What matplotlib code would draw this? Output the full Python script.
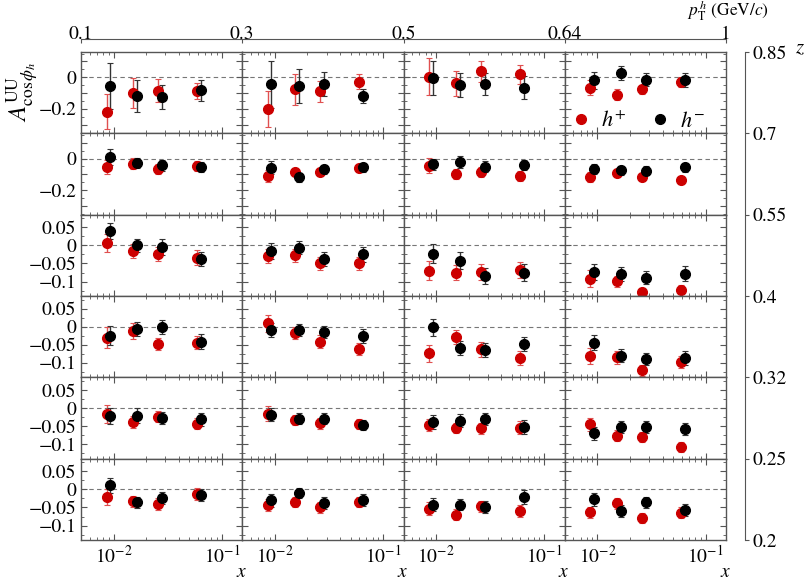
import matplotlib
matplotlib.use("Agg")
import matplotlib.pyplot as plt
import numpy as np
from matplotlib.lines import Line2D
from matplotlib.ticker import FixedLocator, NullFormatter, FixedFormatter, LogLocator

plt.rcParams['font.family'] = ['STIXGeneral', 'DejaVu Serif']
plt.rcParams['mathtext.fontset'] = 'stix'

# bins
pt_edges = ['0.1', '0.3', '0.5', '0.64', '1']
z_edges = ['0.85', '0.7', '0.55', '0.4', '0.32', '0.25', '0.2']

# mean x of the four x bins (h+ and h- drawn slightly apart)
x_hp = [0.0086, 0.0152, 0.0259, 0.0593]
x_hm = [0.0093, 0.0166, 0.0282, 0.0646]

# A_UU^cos(phi_h), rows = z bins (high to low), cols = pT bins
hp_val = [
    [[-0.217, -0.099, -0.084, -0.088], [-0.200, -0.077, -0.090, -0.028],
     [0.004, -0.039, 0.037, 0.019], [-0.065, -0.110, -0.075, -0.028]],
    [[-0.054, -0.033, -0.065, -0.046], [-0.110, -0.085, -0.083, -0.058],
     [-0.044, -0.096, -0.085, -0.110], [-0.117, -0.092, -0.117, -0.138]],
    [[0.006, -0.015, -0.024, -0.034], [-0.029, -0.027, -0.050, -0.050],
     [-0.070, -0.075, -0.074, -0.068], [-0.092, -0.099, -0.129, -0.124]],
    [[-0.030, -0.011, -0.047, -0.045], [0.009, -0.017, -0.041, -0.062],
     [-0.074, -0.028, -0.063, -0.086], [-0.081, -0.085, -0.121, -0.097]],
    [[-0.016, -0.039, -0.024, -0.043], [-0.016, -0.033, -0.042, -0.043],
     [-0.046, -0.055, -0.056, -0.055], [-0.045, -0.077, -0.080, -0.108]],
    [[-0.021, -0.033, -0.040, -0.013], [-0.043, -0.034, -0.050, -0.034],
     [-0.054, -0.070, -0.047, -0.060], [-0.063, -0.038, -0.079, -0.065]],
]
hp_err = [
    [[0.111, 0.094, 0.073, 0.052], [0.116, 0.097, 0.068, 0.049],
     [0.117, 0.078, 0.064, 0.059], [0.048, 0.034, 0.029, 0.031]],
    [[0.042, 0.036, 0.031, 0.031], [0.036, 0.026, 0.026, 0.025],
     [0.049, 0.033, 0.031, 0.031], [0.032, 0.024, 0.023, 0.023]],
    [[0.025, 0.020, 0.020, 0.020], [0.020, 0.018, 0.018, 0.018],
     [0.026, 0.022, 0.023, 0.023], [0.023, 0.015, 0.012, 0.015]],
    [[0.029, 0.022, 0.017, 0.018], [0.023, 0.017, 0.017, 0.016],
     [0.023, 0.019, 0.020, 0.020], [0.021, 0.018, 0.016, 0.017]],
    [[0.025, 0.016, 0.015, 0.015], [0.021, 0.015, 0.015, 0.014],
     [0.017, 0.015, 0.016, 0.018], [0.018, 0.015, 0.015, 0.014]],
    [[0.021, 0.016, 0.016, 0.016], [0.017, 0.014, 0.014, 0.014],
     [0.018, 0.016, 0.016, 0.016], [0.015, 0.015, 0.014, 0.015]],
]
hm_val = [
    [[-0.056, -0.118, -0.125, -0.082], [-0.045, -0.056, -0.043, -0.118],
     [-0.004, -0.049, -0.041, -0.065], [-0.019, 0.028, -0.015, -0.019]],
    [[0.010, -0.029, -0.042, -0.054], [-0.058, -0.117, -0.069, -0.054],
     [-0.037, -0.019, -0.052, -0.040], [-0.067, -0.075, -0.077, -0.054]],
    [[0.040, 0.000, -0.005, -0.038], [-0.016, -0.006, -0.038, -0.025],
     [-0.023, -0.042, -0.084, -0.075], [-0.074, -0.079, -0.090, -0.078]],
    [[-0.025, -0.007, -0.001, -0.041], [-0.009, -0.009, -0.015, -0.025],
     [-0.002, -0.059, -0.064, -0.048], [-0.044, -0.080, -0.089, -0.087]],
    [[-0.023, -0.021, -0.028, -0.031], [-0.018, -0.029, -0.029, -0.048],
     [-0.038, -0.035, -0.031, -0.053], [-0.070, -0.052, -0.052, -0.057]],
    [[0.011, -0.036, -0.024, -0.015], [-0.030, -0.009, -0.038, -0.029],
     [-0.042, -0.042, -0.048, -0.022], [-0.027, -0.060, -0.036, -0.057]],
]
hm_err = [
    [[0.145, 0.100, 0.073, 0.067], [0.150, 0.109, 0.078, 0.045],
     [0.110, 0.077, 0.070, 0.072], [0.054, 0.045, 0.043, 0.043]],
    [[0.049, 0.031, 0.034, 0.033], [0.040, 0.028, 0.031, 0.028],
     [0.037, 0.038, 0.034, 0.034], [0.031, 0.026, 0.028, 0.029]],
    [[0.023, 0.018, 0.022, 0.019], [0.023, 0.018, 0.020, 0.021],
     [0.026, 0.023, 0.022, 0.024], [0.022, 0.020, 0.018, 0.020]],
    [[0.026, 0.019, 0.019, 0.020], [0.019, 0.016, 0.017, 0.019],
     [0.024, 0.020, 0.019, 0.020], [0.020, 0.017, 0.017, 0.019]],
    [[0.022, 0.020, 0.016, 0.018], [0.019, 0.016, 0.016, 0.014],
     [0.020, 0.018, 0.017, 0.019], [0.018, 0.016, 0.016, 0.017]],
    [[0.020, 0.015, 0.016, 0.016], [0.018, 0.014, 0.016, 0.017],
     [0.018, 0.016, 0.017, 0.019], [0.018, 0.016, 0.015, 0.017]],
]

red = '#cc0000'
spine_col = '#555555'
fs = 14
L, R, T, B = 81/809, 726/809, 1 - 52/581, 1 - 540/581

fig, axes = plt.subplots(6, 4, figsize=(8.09, 5.81), dpi=100,
                         gridspec_kw=dict(left=L, right=R, top=T, bottom=B,
                                          hspace=0, wspace=0))

for i in range(6):
    for j in range(4):
        ax = axes[i, j]
        ax.set_xscale('log')
        ax.set_xlim(0.005, 0.154)
        ax.axhline(0, color='#777777', ls=(0, (4, 3)), lw=0.8, zorder=0)
        ax.errorbar(x_hp, hp_val[i][j], yerr=hp_err[i][j], fmt='o', color=red,
                    ecolor='#e05050', ms=7, elinewidth=1.0, capsize=2, capthick=0.8)
        ax.errorbar(x_hm, hm_val[i][j], yerr=hm_err[i][j], fmt='o', color='black',
                    ecolor='#333333', ms=7, elinewidth=1.0, capsize=2, capthick=0.8)
        if i < 2:
            ax.set_ylim(-0.355, 0.16)
            ax.yaxis.set_major_locator(FixedLocator([-0.3, -0.2, -0.1, 0, 0.1]))
            ax.yaxis.set_minor_locator(FixedLocator([-0.35, -0.25, -0.15, -0.05, 0.05, 0.15]))
            ax.yaxis.set_major_formatter(FixedFormatter(['', '\u22120.2', '', '0', '']))
        else:
            ax.set_ylim(-0.14, 0.085)
            ax.yaxis.set_major_locator(FixedLocator([-0.1, -0.05, 0, 0.05]))
            ax.yaxis.set_minor_locator(FixedLocator([-0.125, -0.075, -0.025, 0.025, 0.075]))
            ax.yaxis.set_major_formatter(FixedFormatter(['\u22120.1', '\u22120.05', '0', '0.05']))
        ax.xaxis.set_major_locator(LogLocator(base=10, numticks=5))
        ax.xaxis.set_minor_locator(LogLocator(base=10, subs=np.arange(2, 10), numticks=10))
        ax.xaxis.set_minor_formatter(NullFormatter())
        ax.tick_params(which='both', direction='in', top=True, right=True,
                       colors=spine_col, labelcolor='black', labelsize=fs)
        ax.tick_params(which='major', length=4)
        ax.tick_params(which='minor', length=2)
        if j > 0:
            ax.tick_params(labelleft=False)
        if i < 5:
            ax.tick_params(labelbottom=False)
        else:
            ax.set_xlabel('$x$', fontsize=fs)
            ax.xaxis.set_label_coords(0.995, -0.29)
        for s in ax.spines.values():
            s.set_color(spine_col)
            s.set_linewidth(1.0)

# legend in the top right panel, one entry per hadron charge
ax_leg = axes[0, 3]
leg_p = ax_leg.legend([Line2D([], [], ls='', marker='o', ms=7, color=red)], ['$h^{+}$'],
                      loc='center left', bbox_to_anchor=(0.045, 0.14), frameon=False,
                      fontsize=fs + 2, handlelength=0.8, handletextpad=0.5,
                      borderpad=0, borderaxespad=0)
ax_leg.add_artist(leg_p)
ax_leg.legend([Line2D([], [], ls='', marker='o', ms=7, color='black')], ['$h^{-}$'],
              loc='center left', bbox_to_anchor=(0.535, 0.14), frameon=False,
              fontsize=fs + 2, handlelength=0.8, handletextpad=0.5,
              borderpad=0, borderaxespad=0)

# y label
fig.text(22/809, 1 - 92/581, r'$A^{\rm UU}_{\cos\phi_h}$', rotation=90,
         fontsize=18, ha='center', va='center')

# top pT axis
axt = fig.add_axes([L, 1 - 39/581, R - L, 0.0001])
axt.set_xlim(0, 4)
axt.set_ylim(0, 1)
axt.set_xticks(range(5))
axt.set_xticklabels(pt_edges)
axt.set_yticks([])
for k in ['top', 'left', 'right']:
    axt.spines[k].set_visible(False)
axt.spines['bottom'].set_color(spine_col)
axt.tick_params(axis='x', direction='out', bottom=True, top=False, labelbottom=False,
                labeltop=True, length=3, colors=spine_col, labelcolor='black',
                labelsize=fs, pad=-6)
fig.text(728/809, 1 - 23/581, r'$p_{\rm T}^{\,h}$ (GeV/$c$)', fontsize=12.5,
         ha='center', va='bottom')

# right z axis
axr = fig.add_axes([745/809, B, 0.0001, T - B])
axr.set_ylim(6, 0)
axr.set_xlim(0, 1)
axr.set_yticks(range(7))
axr.set_yticklabels(z_edges)
axr.set_xticks([])
for k in ['top', 'bottom', 'right']:
    axr.spines[k].set_visible(False)
axr.spines['left'].set_color(spine_col)
axr.tick_params(axis='y', direction='in', left=True, right=False, labelleft=False,
                labelright=True, length=3, colors=spine_col, labelcolor='black',
                labelsize=fs, pad=5)
fig.text(800/809, 1 - 48/581, '$z$', fontsize=fs + 1, ha='center', va='center')

fig.savefig('out.png', dpi=100)
